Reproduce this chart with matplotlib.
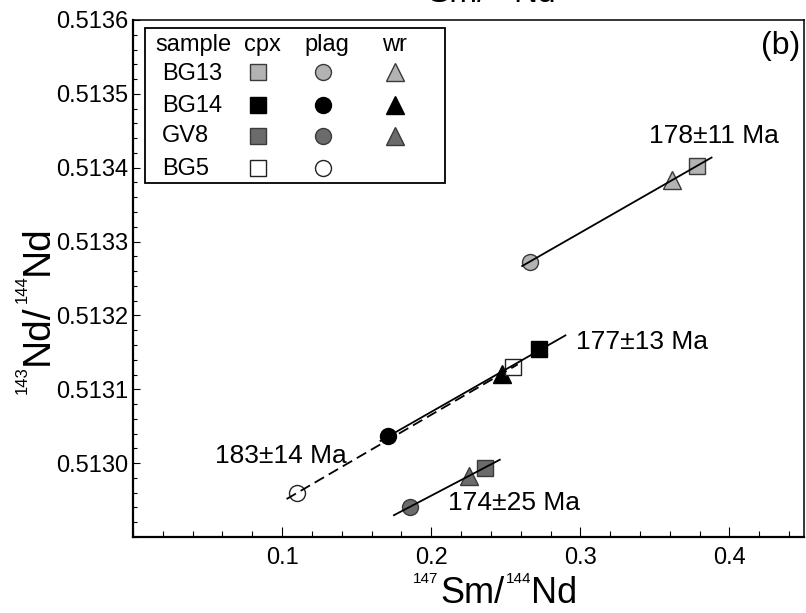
import numpy as np
import matplotlib
matplotlib.use('Agg')
import matplotlib.pyplot as plt
from matplotlib.patches import Rectangle
from matplotlib.ticker import MultipleLocator, FormatStrFormatter, FixedLocator

plt.rcParams['font.family'] = ['Liberation Sans', 'DejaVu Sans']

# ── data ────────────────────────────────────────────────────────────────────
samples = ['BG13', 'BG14', 'GV8', 'BG5']

# 147Sm/144Nd and 143Nd/144Nd for each mineral (BG5 has no whole rock)
cpx_x  = [0.3780, 0.2723, 0.2361, 0.2549]
cpx_y  = [0.513402, 0.513155, 0.512994, 0.513130]
plag_x = [0.2663, 0.1712, 0.1859, 0.1103]
plag_y = [0.513273, 0.513037, 0.512941, 0.512960]
wr_x   = [0.3612, 0.2476, 0.2254, np.nan]
wr_y   = [0.513383, 0.513121, 0.512983, np.nan]

# isochrons: age label, x extent of drawn line, label position
iso_ages   = ['178±11 Ma', '177±13 Ma', '174±25 Ma', '183±14 Ma']
iso_xrange = [[0.261, 0.388], [0.166, 0.290], [0.175, 0.246], [0.103, 0.258]]
iso_lab_x  = [0.3895, 0.3415, 0.2556, 0.0989]
iso_lab_y  = [0.513443, 0.513164, 0.512946, 0.513009]

# ── styles ──────────────────────────────────────────────────────────────────
face = {'BG13': '#b3b3b3', 'BG14': '#000000', 'GV8': '#6b6b6b', 'BG5': '#ffffff'}
edge = {'BG13': '#3a3a3a', 'BG14': '#000000', 'GV8': '#3a3a3a', 'BG5': '#222222'}
iso_style = ['-', '-', '-', (0, (6, 3))]

fig = plt.figure(figsize=(8.06, 6.13), dpi=100)
ax = fig.add_axes([133 / 806, 1 - 537 / 613, (804 - 133) / 806, (537 - 20) / 613])

# isochron lines (fit through the points of each sample)
for i, s in enumerate(samples):
    xs = [cpx_x[i], plag_x[i], wr_x[i]]
    ys = [cpx_y[i], plag_y[i], wr_y[i]]
    ok = ~np.isnan(xs)
    k, b = np.polyfit(np.array(xs)[ok], np.array(ys)[ok], 1)
    xr = np.array(iso_xrange[i])
    ax.plot(xr, k * xr + b, color='black', lw=1.3, ls=iso_style[i], zorder=4)
    ax.text(iso_lab_x[i], iso_lab_y[i], iso_ages[i], fontsize=19,
            ha='center', va='center', zorder=5)

# data points
for i, s in enumerate(samples):
    ax.plot(cpx_x[i], cpx_y[i], 's', ms=11.5, mfc=face[s], mec=edge[s], mew=1, zorder=3)
    ax.plot(plag_x[i], plag_y[i], 'o', ms=11.5, mfc=face[s], mec=edge[s], mew=1, zorder=3)
    if not np.isnan(wr_x[i]):
        ax.plot(wr_x[i], wr_y[i], '^', ms=12.5, mfc=face[s], mec=edge[s], mew=1, zorder=3)

ax.set_xlim(0, 0.45)
ax.set_ylim(0.51290, 0.51360)
ax.xaxis.set_major_locator(FixedLocator([0.1, 0.2, 0.3, 0.4]))
ax.xaxis.set_minor_locator(MultipleLocator(0.02))
ax.yaxis.set_major_locator(FixedLocator([0.5130, 0.5131, 0.5132, 0.5133, 0.5134, 0.5135, 0.5136]))
ax.yaxis.set_minor_locator(MultipleLocator(0.00002))
ax.xaxis.set_major_formatter(FormatStrFormatter('%.1f'))
ax.yaxis.set_major_formatter(FormatStrFormatter('%.4f'))
ax.tick_params(axis='both', which='both', direction='in', top=False, right=False,
               labelsize=17, width=0.8)
ax.tick_params(axis='x', which='major', length=7, pad=7)
ax.tick_params(axis='x', which='minor', length=4)
ax.tick_params(axis='y', which='major', length=5, pad=3.5)
ax.tick_params(axis='y', which='minor', length=3)
for side in ['left', 'bottom']:
    ax.spines[side].set_linewidth(1.6)
for side in ['top', 'right']:
    ax.spines[side].set_linewidth(1.1)

ax.text(0.994, 0.950, '(b)', transform=ax.transAxes, fontsize=23, ha='right', va='center')

# ── legend table ────────────────────────────────────────────────────────────
ax.add_patch(Rectangle((0.018, 0.685), 0.447, 0.300, transform=ax.transAxes,
                       fc='white', ec='black', lw=1.3, zorder=6))
hdr_y = 0.9406
ax.text(0.0328, hdr_y, 'sample', transform=ax.transAxes, fontsize=17, ha='left', va='baseline', zorder=7)
for cx, t in zip([0.1923, 0.2891, 0.389], ['cpx', 'plag', 'wr']):
    ax.text(cx, hdr_y, t, transform=ax.transAxes, fontsize=17, ha='center', va='baseline', zorder=7)
row_base = [0.8839, 0.8226, 0.7634, 0.7002]
row_mark = [0.8994, 0.8356, 0.7756, 0.7132]
for i, s in enumerate(samples):
    ax.text(0.0432, row_base[i], s, transform=ax.transAxes, fontsize=17, ha='left', va='baseline', zorder=7)
    ax.plot(0.1863, row_mark[i], 's', ms=11.5, mfc=face[s], mec=edge[s], mew=1,
            transform=ax.transAxes, zorder=7, clip_on=False)
    ax.plot(0.2832, row_mark[i], 'o', ms=11.5, mfc=face[s], mec=edge[s], mew=1,
            transform=ax.transAxes, zorder=7, clip_on=False)
    if not np.isnan(wr_x[i]):
        ax.plot(0.3905, row_mark[i], '^', ms=12.5, mfc=face[s], mec=edge[s], mew=1,
                transform=ax.transAxes, zorder=7, clip_on=False)


# ── axis labels with small superscripts ─────────────────────────────────────
def iso_label(x, y, sup1, main1, sup2, main2, size, sup_size, vertical=False):
    if not vertical:
        tm = fig.text(x, y, main1, fontsize=size, ha='left', va='baseline')
        ax.annotate(sup1, xy=(0, 1), xycoords=tm, xytext=(-1, -7), textcoords='offset points',
                    fontsize=sup_size, ha='right', va='bottom', annotation_clip=False)
        ts = ax.annotate(sup2, xy=(1, 1), xycoords=tm, xytext=(1, -7), textcoords='offset points',
                         fontsize=sup_size, ha='left', va='bottom', annotation_clip=False)
        ax.annotate(main2, xy=(1, 0), xycoords=(ts, tm), xytext=(0, 0), textcoords='offset points',
                    fontsize=size, ha='left', va='bottom', annotation_clip=False)
    else:
        tm = fig.text(x, y, main1, fontsize=size, ha='right', va='bottom', rotation=90)
        ax.annotate(sup1, xy=(0, 0), xycoords=tm, xytext=(7, -1), textcoords='offset points',
                    fontsize=sup_size, ha='right', va='top', rotation=90, annotation_clip=False)
        ts = ax.annotate(sup2, xy=(0, 1), xycoords=tm, xytext=(7, 1), textcoords='offset points',
                         fontsize=sup_size, ha='right', va='bottom', rotation=90, annotation_clip=False)
        ax.annotate(main2, xy=(0, 1), xycoords=(tm, ts), xytext=(0, 0), textcoords='offset points',
                    fontsize=size, ha='left', va='bottom', rotation=90, annotation_clip=False)


iso_label(440 / 806, 1 - 603 / 613, '147', 'Sm/', '144', 'Nd', 26, 11)
iso_label(56 / 806, 1 - 365 / 613, '143', 'Nd/', '144', 'Nd', 28, 12, vertical=True)
iso_label(427 / 806, 1 - 1.5 / 613, '147', 'Sm/', '144', 'Nd', 24, 11)

fig.savefig('out.png', dpi=100)
